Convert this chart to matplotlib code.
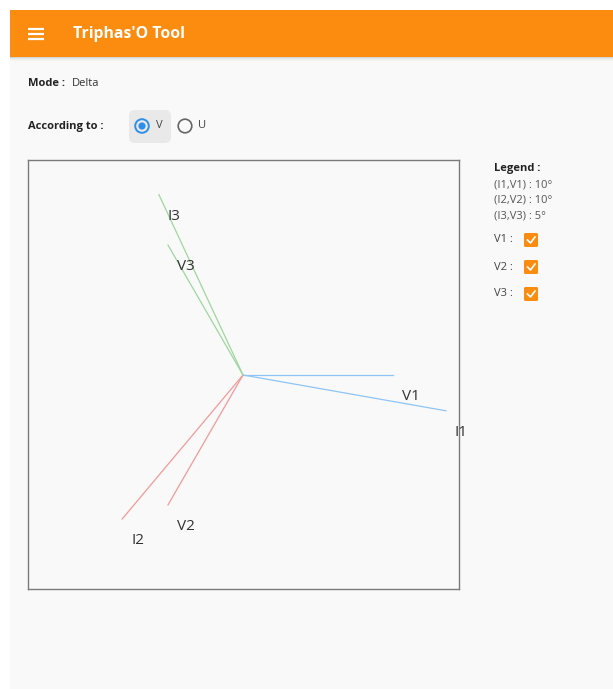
import numpy as np
import matplotlib
matplotlib.use("Agg")
import matplotlib.pyplot as plt
import matplotlib.patches as patches

plt.rcParams['font.family'] = ['Open Sans', 'DejaVu Sans']

# phasor data
v_labels = ["V1", "V2", "V3"]
i_labels = ["I1", "I2", "I3"]
v_angles = [0, -120, 120]          # degrees
phase_shift = [10, 10, 5]          # (Ix,Vx) in degrees
v_magnitudes = [150, 150, 150]
i_magnitudes = [206, 188, 199]
phase_colors = ["#8ec5f4", "#f29a98", "#9fd69f"]

legend_lines = ["(I1,V1) : 10°", "(I2,V2) : 10°", "(I3,V3) : 5°"]
mode = "Delta"

W, H = 613, 689
fig = plt.figure(figsize=(W / 100, H / 100), dpi=100)
fig.patch.set_facecolor("white")

# UI layer in pixel coordinates
ui = fig.add_axes([0, 0, 1, 1])
ui.set_xlim(0, W)
ui.set_ylim(H, 0)
ui.axis("off")

ui.add_patch(patches.Rectangle((10, 10), W - 10, H - 10, facecolor="#f9f9f9", edgecolor="none"))
# app bar + shadow
for k, c in enumerate(["#d6d6d6", "#e4e4e4", "#eeeeee", "#f4f4f4"]):
    ui.add_patch(patches.Rectangle((10, 57 + k), W - 10, 1, facecolor=c, edgecolor="none"))
ui.add_patch(patches.Rectangle((10, 10), W - 10, 47, facecolor="#fb8c10", edgecolor="none"))
for yy in (29, 34, 39):
    ui.plot([28, 44], [yy, yy], color="white", lw=1.6, solid_capstyle="butt")
ui.text(73, 34, "Triphas'O Tool", color="white", fontsize=11.3, fontweight="bold",
        ha="left", va="center")

# mode / according to
ui.text(28, 84, "Mode :", color="#222222", fontsize=8, fontweight="bold", ha="left", va="center")
ui.text(72, 84, mode, color="#333333", fontsize=8, ha="left", va="center")
ui.text(28, 126, "According to :", color="#222222", fontsize=8, fontweight="bold", ha="left", va="center")
ui.add_patch(patches.FancyBboxPatch((129, 110), 42, 33, boxstyle="round,pad=0,rounding_size=6",
                                    facecolor="#e9e9e9", edgecolor="none"))
ui.add_patch(patches.Circle((142, 126), 6.8, facecolor="none", edgecolor="#2f8fe8", lw=1.4))
ui.add_patch(patches.Circle((142, 126), 3.6, facecolor="#2f8fe8", edgecolor="none"))
ui.text(156, 126, "V", color="#444444", fontsize=8, ha="left", va="center")
ui.add_patch(patches.Circle((185, 126), 6.8, facecolor="none", edgecolor="#666666", lw=1.2))
ui.text(198, 126, "U", color="#444444", fontsize=8, ha="left", va="center")

# legend panel
ui.text(494, 169, "Legend :", color="#222222", fontsize=8, fontweight="bold", ha="left", va="center")
for k, line in enumerate(legend_lines):
    ui.text(494, 185 + 15.5 * k, line, color="#555555", fontsize=8, ha="left", va="center")
for k, name in enumerate(v_labels):
    yc = 240 + 27 * k
    ui.text(494, yc, name + " :", color="#444444", fontsize=8, ha="left", va="center")
    ui.add_patch(patches.FancyBboxPatch((524, yc - 7), 14, 14, boxstyle="round,pad=0,rounding_size=1.5",
                                        facecolor="#fb8c10", edgecolor="none"))
    ui.plot([527.5, 530.5, 535], [yc, yc + 3, yc - 3], color="white", lw=1.2)

# phasor diagram
ax = fig.add_axes([28 / W, 1 - 589 / H, 431 / W, 429 / H])
ax.set_facecolor("#f9f9f9")
ax.set_xlim(-215, 216)
ax.set_ylim(-214, 215)
ax.set_xticks([])
ax.set_yticks([])
for s in ax.spines.values():
    s.set_color("#7a7a7a")
    s.set_linewidth(1.0)

for k in range(3):
    va = np.deg2rad(v_angles[k])
    ia = np.deg2rad(v_angles[k] - phase_shift[k])
    for mag, ang, lab in ((v_magnitudes[k], va, v_labels[k]), (i_magnitudes[k], ia, i_labels[k])):
        x, y = mag * np.cos(ang), mag * np.sin(ang)
        ax.plot([0, x], [0, y], color=phase_colors[k], lw=0.9)
        ax.annotate(lab, (x, y), xytext=(9, -14), textcoords="offset pixels",
                    ha="left", va="top", fontsize=11, color="#333333", annotation_clip=False)

fig.savefig("out.png", dpi=100, facecolor=fig.get_facecolor())
